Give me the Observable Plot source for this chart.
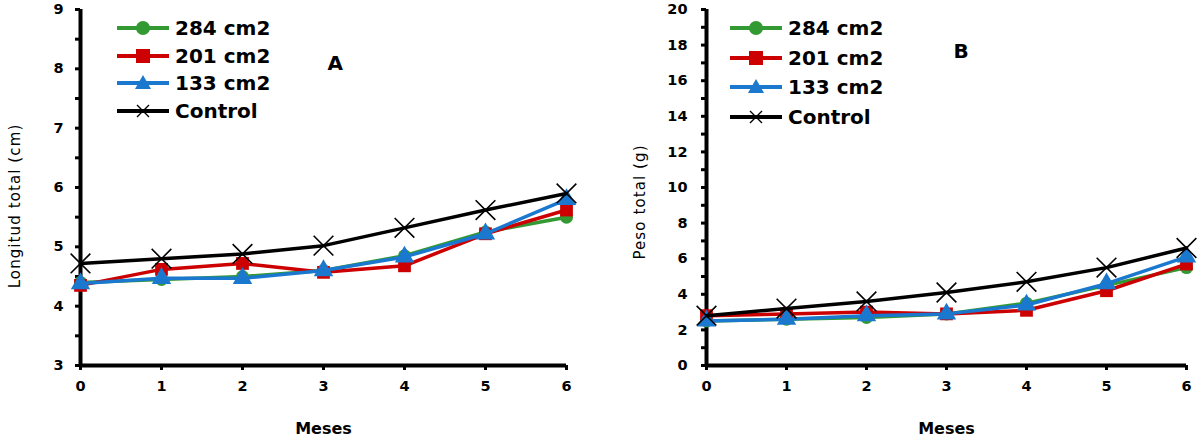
<!DOCTYPE html>
<html>
<head>
<meta charset="utf-8">
<script src="https://cdn.jsdelivr.net/npm/d3@7"></script>
<script src="https://cdn.jsdelivr.net/npm/@observablehq/plot@0.6"></script>
<style>
  html, body { margin: 0; padding: 0; background: #fff; }
  #wrap { position: relative; width: 1201px; height: 448px; display: flex; font-family: "DejaVu Sans", sans-serif; }
  .panel { position: relative; }
  .legend { position: absolute; font-weight: bold; font-size: 20px; color: #000; }
  .legend .row { position: absolute; left: 0; display: flex; align-items: center; white-space: nowrap; }
  .legend svg { display: block; margin-right: 6px; }
  .ytitle { position: absolute; font-size: 15px; letter-spacing: 1.1px; color: #000; white-space: nowrap;
            transform: translate(-50%, -50%) rotate(-90deg); line-height: 1; }
</style>
</head>
<body>
<div id="wrap"></div>
<script>
// Months of growth
const months = [0, 1, 2, 3, 4, 5, 6];
const seriesNames = ["284 cm2", "201 cm2", "133 cm2", "Control"];
const seriesColors = ["#339a33", "#cc0000", "#1a78cf", "#000000"];
const seriesSymbols = ["circle", "square", "triangle", "times"];

// A: Longitud total (cm)
const length284 = [4.40, 4.45, 4.50, 4.60, 4.85, 5.25, 5.50];
const length201 = [4.35, 4.62, 4.72, 4.57, 4.68, 5.22, 5.62];
const length133 = [4.38, 4.47, 4.47, 4.60, 4.83, 5.22, 5.80];
const lengthControl = [4.72, 4.80, 4.88, 5.02, 5.32, 5.62, 5.90];

// B: Peso total (g)
const weight284 = [2.50, 2.60, 2.70, 2.90, 3.50, 4.50, 5.50];
const weight201 = [2.80, 2.90, 3.00, 2.90, 3.10, 4.20, 5.70];
const weight133 = [2.50, 2.60, 2.80, 2.90, 3.40, 4.60, 6.10];
const weightControl = [2.80, 3.20, 3.60, 4.10, 4.70, 5.50, 6.60];

// Axis ticks
const lengthTicks = [3, 4, 5, 6, 7, 8, 9];
const lengthMinor = [3.5, 4.5, 5.5, 6.5, 7.5, 8.5];
const weightTicks = [0, 2, 4, 6, 8, 10, 12, 14, 16, 18, 20];
const weightMinor = [1, 3, 5, 7, 9, 11, 13, 15, 17, 19];

function toRows(valueLists) {
  const rows = [];
  valueLists.forEach((vals, s) => {
    vals.forEach((v, i) => rows.push({series: seriesNames[s], month: months[i], value: v}));
  });
  return rows;
}

function seriesMarks(rows) {
  const marks = [];
  seriesNames.forEach((name, s) => {
    const d = rows.filter(r => r.series === name);
    marks.push(Plot.line(d, {x: "month", y: "value", stroke: seriesColors[s], strokeWidth: 3.5}));
    if (seriesSymbols[s] === "times") {
      marks.push(Plot.dot(d, {x: "month", y: "value", symbol: "times", r: 9, stroke: seriesColors[s], strokeWidth: 1.6}));
    } else {
      const r = seriesSymbols[s] === "circle" ? 6.5 : 7.2;
      marks.push(Plot.dot(d, {x: "month", y: "value", symbol: seriesSymbols[s], r, fill: seriesColors[s], stroke: "none"}));
    }
  });
  return marks;
}

function panel({width, marginLeft, marginRight, yDomain, yTicks, yMinor, tickPad, rows, letter, letterDy}) {
  return Plot.plot({
    width, height: 448,
    marginLeft, marginRight, marginTop: 9, marginBottom: 83,
    x: {domain: [0, 6], axis: null},
    y: {domain: yDomain, axis: null},
    style: {fontFamily: "DejaVu Sans", fontSize: "14.5px", fontWeight: "bold", color: "#000", background: "transparent", overflow: "visible"},
    marks: [
      Plot.axisY(yTicks, {tickSize: 5, tickPadding: tickPad, strokeWidth: 3, tickFormat: d => String(d), label: null}),
      Plot.axisY(yMinor, {tickSize: 5, strokeWidth: 3, tickFormat: () => "", label: null}),
      Plot.axisX(months, {tickSize: 5, tickPadding: 10, strokeWidth: 3, tickFormat: d => String(d), label: null}),
      Plot.ruleX([0], {strokeWidth: 4}),
      Plot.ruleY([yDomain[0]], {strokeWidth: 4}),
      ...seriesMarks(rows),
      Plot.text(["Meses"], {frameAnchor: "bottom", dy: 68, fontSize: 16, fontWeight: "bold"}),
      Plot.text([letter], {frameAnchor: "top-left", dx: 247, dy: letterDy, fontSize: 20, fontWeight: "bold"})
    ]
  });
}

function legend(left, top, step) {
  const box = document.createElement("div");
  box.className = "legend";
  box.style.left = left + "px";
  box.style.top = top + "px";
  seriesNames.forEach((name, s) => {
    const row = document.createElement("div");
    row.className = "row";
    row.style.top = (s * step - 14) + "px";
    row.style.height = "28px";
    const svg = d3.create("svg").attr("width", 52).attr("height", 28);
    svg.append("line").attr("x1", 0).attr("x2", 52).attr("y1", 14).attr("y2", 14)
      .attr("stroke", seriesColors[s]).attr("stroke-width", 4);
    const sym = seriesSymbols[s];
    if (sym === "circle") svg.append("circle").attr("cx", 26).attr("cy", 14).attr("r", 7).attr("fill", seriesColors[s]);
    else if (sym === "square") svg.append("rect").attr("x", 19).attr("y", 7).attr("width", 14).attr("height", 14).attr("fill", seriesColors[s]);
    else if (sym === "triangle") svg.append("path").attr("d", "M26,6 L34,20 L18,20 Z").attr("fill", seriesColors[s]);
    else svg.append("path").attr("d", "M20,8 L32,20 M32,8 L20,20").attr("stroke", seriesColors[s]).attr("stroke-width", 1.4);
    row.appendChild(svg.node());
    const label = document.createElement("span");
    label.textContent = name;
    row.appendChild(label);
    box.appendChild(row);
  });
  return box;
}

function yTitle(text, cx, cy) {
  const t = document.createElement("div");
  t.className = "ytitle";
  t.textContent = text;
  t.style.left = cx + "px";
  t.style.top = cy + "px";
  return t;
}

const wrap = document.getElementById("wrap");

const panelA = document.createElement("div");
panelA.className = "panel";
panelA.appendChild(panel({
  width: 600, marginLeft: 80, marginRight: 34,
  yDomain: [3, 9], yTicks: lengthTicks, yMinor: lengthMinor, tickPad: 12,
  rows: toRows([length284, length201, length133, lengthControl]),
  letter: "A", letterDy: 46
}));
panelA.appendChild(legend(117, 28, 27.7));
panelA.appendChild(yTitle("Longitud total (cm)", 15, 206));
wrap.appendChild(panelA);

const panelB = document.createElement("div");
panelB.className = "panel";
panelB.appendChild(panel({
  width: 601, marginLeft: 106, marginRight: 15,
  yDomain: [0, 20], yTicks: weightTicks, yMinor: weightMinor, tickPad: 14,
  rows: toRows([weight284, weight201, weight133, weightControl]),
  letter: "B", letterDy: 34
}));
panelB.appendChild(legend(130, 28, 29.5));
panelB.appendChild(yTitle("Peso total (g)", 40, 202));
wrap.appendChild(panelB);
</script>
</body>
</html>
